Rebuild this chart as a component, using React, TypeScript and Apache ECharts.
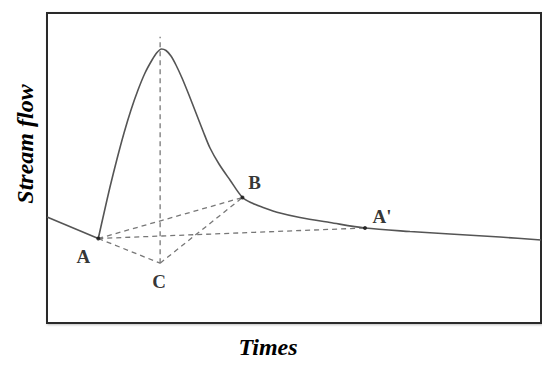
import React, { useEffect, useRef } from "react";
import * as echarts from "echarts";

// Hydrograph (time in % of window, stream flow in % of frame height)
const baseTime = [0, 10.38];
const baseFlow = [34.2, 27.26];
const curveTime = [10.38, 11.54, 12.75, 14.17, 15.59, 17.0, 18.42, 19.84, 21.26, 22.27, 23.18, 24.09, 25.1, 26.11, 27.33, 28.74, 30.16, 31.58, 33.0, 34.82, 37.04, 39.57, 41.5, 43.52, 47.17, 51.21, 57.29, 64.37, 73.48, 81.58, 91.7, 100];
const curveFlow = [27.26, 35.48, 43.87, 52.9, 61.29, 68.71, 75.16, 80.65, 84.84, 87.26, 88.39, 87.9, 86.13, 83.23, 79.03, 73.55, 67.74, 61.94, 56.45, 51.29, 46.13, 40.48, 38.71, 37.42, 35.48, 34.03, 32.42, 30.65, 29.52, 28.71, 27.74, 26.77];

const pointNames = ["A", "B", "A'", "C"];
const pointTime = [10.38, 39.57, 64.37, 22.9];
const pointFlow = [27.26, 40.48, 30.65, 19.3];
const peakLineTop = 92.3;

const xName = "Times";
const yName = "Stream flow";

export default function App() {
  const ref = useRef<HTMLDivElement>(null);
  useEffect(() => {
    if (!ref.current) return;
    const chart = echarts.init(ref.current, null, { renderer: "svg" });
    const P = (i: number) => [pointTime[i], pointFlow[i]];
    const A = P(0), B = P(1), Ap = P(2), C = P(3);
    const dashStyle = { color: "#777", width: 1.3, type: [5, 4] as any };
    const dashSeries = (data: number[][]) => ({
      type: "line",
      data,
      symbol: "none",
      lineStyle: dashStyle,
      silent: true,
      z: 1,
    });
    const labelOffsets: Record<string, number[]> = {
      A: [-15, 18],
      B: [12, -15],
      "A'": [17, -11],
      C: [-1, 18],
    };
    const serif = "'Liberation Serif', 'DejaVu Serif', serif";
    const titleFont = "italic bold 24px 'Liberation Serif', 'DejaVu Serif', serif";
    chart.setOption({
      animation: false,
      grid: {
        left: 39,
        right: 1,
        top: 5,
        bottom: 38,
        show: true,
        borderColor: "#2a2a2a",
        borderWidth: 2,
        backgroundColor: "#fff",
        shadowColor: "rgba(0,0,0,0.25)",
        shadowBlur: 2,
        shadowOffsetX: 1,
        shadowOffsetY: 1,
      },
      graphic: [
        {
          type: "text",
          x: 260,
          y: 339,
          style: {
            text: xName,
            font: titleFont,
            fill: "#000",
            align: "center",
            verticalAlign: "middle",
          },
        },
        {
          type: "text",
          x: 17,
          y: 136,
          rotation: Math.PI / 2,
          style: {
            text: yName,
            font: titleFont,
            fill: "#000",
            align: "center",
            verticalAlign: "middle",
          },
        },
      ],
      xAxis: {
        type: "value",
        min: 0,
        max: 100,
        axisLine: { show: false },
        axisTick: { show: false },
        axisLabel: { show: false },
        splitLine: { show: false },
      },
      yAxis: {
        type: "value",
        min: 0,
        max: 100,
        axisLine: { show: false },
        axisTick: { show: false },
        axisLabel: { show: false },
        splitLine: { show: false },
      },
      series: [
        dashSeries([A, B]),
        dashSeries([A, Ap]),
        dashSeries([A, C]),
        dashSeries([C, B]),
        dashSeries([C, [C[0], peakLineTop]]),
        {
          type: "line",
          data: baseTime.map((t, i) => [t, baseFlow[i]]),
          symbol: "none",
          lineStyle: { color: "#555", width: 1.6 },
          z: 2,
        },
        {
          type: "line",
          data: curveTime.map((t, i) => [t, curveFlow[i]]),
          symbol: "none",
          smooth: 0.3,
          lineStyle: { color: "#555", width: 1.6 },
          z: 2,
        },
        {
          type: "scatter",
          data: pointNames.map((n, i) => ({
            name: n,
            value: [pointTime[i], pointFlow[i]],
            symbolSize: n === "C" ? 0 : 4,
            label: {
              show: true,
              formatter: n,
              position: "inside",
              offset: labelOffsets[n],
              fontFamily: serif,
              fontWeight: "bold",
              fontSize: 19,
              color: "#000",
            },
          })),
          itemStyle: { color: "#111" },
          z: 3,
        },
      ],
    });
    return () => chart.dispose();
  }, []);
  return <div ref={ref} style={{ width: 534, height: 353 }} />;
}
